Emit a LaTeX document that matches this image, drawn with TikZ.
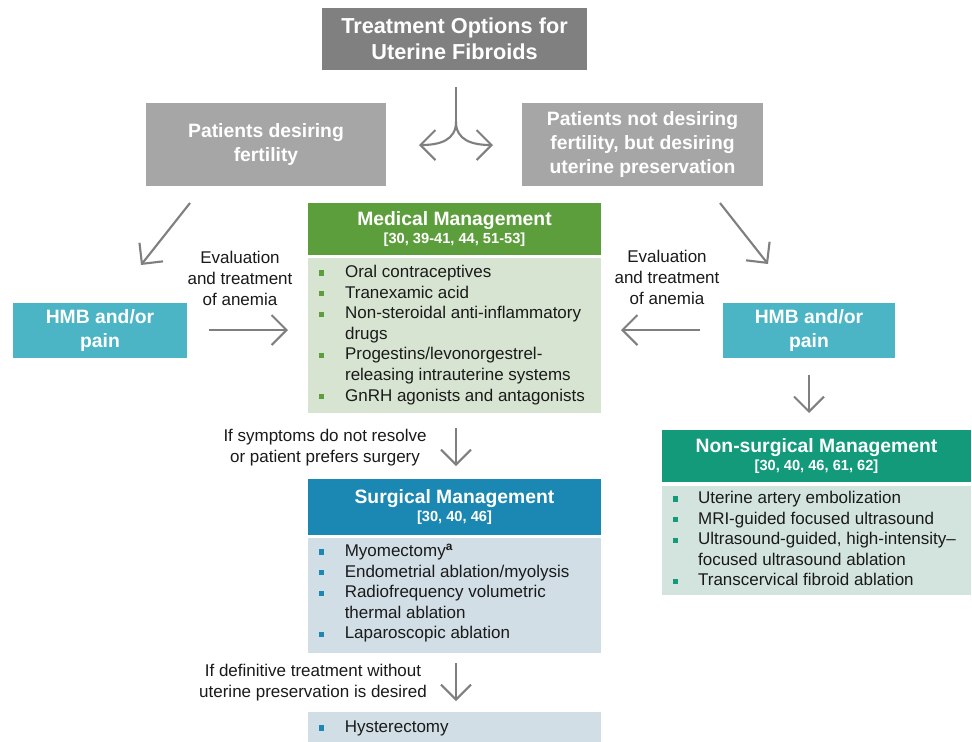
\documentclass[tikz,border=0pt]{standalone}
\usepackage{fontspec}
\setmainfont{Liberation Sans}
\usetikzlibrary{arrows.meta}
\definecolor{titlegray}{HTML}{808080}
\definecolor{boxgray}{HTML}{A6A6A6}
\definecolor{arrgray}{HTML}{7F7F7F}
\definecolor{medgreen}{HTML}{5C9E3B}
\definecolor{medbody}{HTML}{D7E4D2}
\definecolor{hmbteal}{HTML}{4BB5C5}
\definecolor{nsgreen}{HTML}{129A7B}
\definecolor{nsbody}{HTML}{D3E4DF}
\definecolor{surgblue}{HTML}{1B87B3}
\definecolor{surgbody}{HTML}{D2DEE6}
\definecolor{txt}{HTML}{1A1A1A}
\newcommand\mybullet[1]{\textcolor{#1}{\rule[1.7pt]{4.3pt}{4.3pt}}}
\begin{document}
\begin{tikzpicture}[x=0.3mm,y=-0.3mm,
  bx/.style 2 args={rectangle, inner sep=0pt, minimum width=#1*0.3mm, minimum height=#2*0.3mm},
  hdr/.style={text=white, align=center, font=\bfseries\fontsize{16.5}{19}\selectfont},
  body/.style={inner sep=0pt, anchor=base west, text=txt, font=\fontsize{14.5}{17.6}\selectfont},
  note/.style={inner sep=0pt, text=txt, align=center, font=\fontsize{14.5}{17.9}\selectfont},
  plain/.style={draw=arrgray, line width=1.8pt},
  arr/.style={plain, -{Straight Barb[length=4.5mm,width=9mm]}}]
\useasboundingbox (0,0) rectangle (972,741);
\clip (0,0) rectangle (972,741);
\fill[white] (0,0) rectangle (972,741);

% top
\node[bx={265}{62}, fill=titlegray, text=white, align=center,
  font=\bfseries\fontsize{18.5}{22}\selectfont] (title) at (454.5,39)
  {Treatment Options for\\Uterine Fibroids};
\node[bx={240}{83}, fill=boxgray, hdr, font=\bfseries\fontsize{16.5}{20.4}\selectfont] (lgray) at (266,144.5)
  {Patients desiring\\fertility};
\node[bx={241}{83}, fill=boxgray, hdr, font=\bfseries\fontsize{16.5}{20.4}\selectfont] (rgray) at (642.5,144.5)
  {Patients not desiring\\fertility, but desiring\\uterine preservation};

% fork
\coordinate (fk0) at (456,87);
\coordinate (fk1) at (456,122);
\coordinate (fkL) at (419,145);
\coordinate (fkR) at (493,145);
\draw[plain] (fk0) -- (fk1);
\draw[arr] (fk1) .. controls (456,140) and (440,145) .. (fkL);
\draw[arr] (fk1) .. controls (456,140) and (472,145) .. (fkR);

% medical
\node[bx={293}{52}, fill=medgreen, hdr] (medh) at (454.5,229)
  {Medical Management\\[-3pt]{\fontsize{12.5}{14}\selectfont [30, 39-41, 44, 51-53]}};
\node[bx={293}{155}, fill=medbody] (medb) at (454.5,335.5) {};
\node[body] (medl) at (318.5,277.5) {\begin{tabular}[t]{@{}l@{\hspace{6.4mm}}l@{}}
\mybullet{medgreen} & Oral contraceptives\\
\mybullet{medgreen} & Tranexamic acid\\
\mybullet{medgreen} & Non-steroidal anti-inflammatory\\
 & drugs\\
\mybullet{medgreen} & Progestins/levonorgestrel-\\
 & releasing intrauterine systems\\
\mybullet{medgreen} & GnRH agonists and antagonists
\end{tabular}};

% HMB boxes
\node[bx={174}{55}, fill=hmbteal, hdr, font=\bfseries\fontsize{16.5}{20}\selectfont] (lhmb) at (100,330.5) {HMB and/or\\pain};
\node[bx={172}{55}, fill=hmbteal, hdr, font=\bfseries\fontsize{16.5}{20}\selectfont] (rhmb) at (809,330.5) {HMB and/or\\pain};

\node[note] (levl) at (240,278) {Evaluation\\and treatment\\of anemia};
\node[note] (revl) at (667,277) {Evaluation\\and treatment\\of anemia};

\coordinate (dl0) at (190,203);
\coordinate (dl1) at (141,265);
\coordinate (dr0) at (720,203);
\coordinate (dr1) at (768,264);
\draw[arr] (dl0) -- (dl1);
\draw[arr] (dr0) -- (dr1);
\coordinate (hl0) at (209,330);
\coordinate (hl1) at (288,330);
\coordinate (hr0) at (700,330);
\coordinate (hr1) at (621,330);
\draw[arr] (hl0) -- (hl1);
\draw[arr] (hr0) -- (hr1);
\coordinate (vr0) at (809,375);
\coordinate (vr1) at (809,413);
\draw[arr] (vr0) -- (vr1);

% non-surgical
\node[bx={309}{52}, fill=nsgreen, hdr] (nsh) at (816.5,456)
  {Non-surgical Management\\[-3pt]{\fontsize{12.5}{14}\selectfont [30, 40, 46, 61, 62]}};
\node[bx={309}{109}, fill=nsbody] (nsb) at (816.5,540.5) {};
\node[body] (nsl) at (672.5,503.5) {\begin{tabular}[t]{@{}l@{\hspace{6.1mm}}l@{}}
\mybullet{nsgreen} & Uterine artery embolization\\
\mybullet{nsgreen} & MRI-guided focused ultrasound\\
\mybullet{nsgreen} & Ultrasound-guided, high-intensity--\\
 & focused ultrasound ablation\\
\mybullet{nsgreen} & Transcervical fibroid ablation
\end{tabular}};

% surgical
\coordinate (vc0) at (456,428);
\coordinate (vc1) at (456,466);
\draw[arr] (vc0) -- (vc1);
\node[note] (ifsym) at (325,448) {If symptoms do not resolve\\or patient prefers surgery};

\node[bx={293}{56}, fill=surgblue, hdr] (sh) at (454.5,507)
  {Surgical Management\\[-3pt]{\fontsize{12.5}{14}\selectfont [30, 40, 46]}};
\node[bx={293}{115}, fill=surgbody] (sb) at (454.5,595.5) {};
\node[body] (sl) at (318.5,556.5) {\begin{tabular}[t]{@{}l@{\hspace{6.3mm}}l@{}}
\mybullet{surgblue} & Myomectomy\textsuperscript{\textbf{a}}\\
\mybullet{surgblue} & Endometrial ablation/myolysis\\
\mybullet{surgblue} & Radiofrequency volumetric\\
 & thermal ablation\\
\mybullet{surgblue} & Laparoscopic ablation
\end{tabular}};

\coordinate (vd0) at (456,663);
\coordinate (vd1) at (456,701);
\draw[arr] (vd0) -- (vd1);
\node[note] (ifdef) at (313,682.5) {If definitive treatment without\\uterine preservation is desired};

\node[bx={293}{46}, fill=surgbody] (hy) at (454.5,735) {};
\node[body] (hyl) at (318.5,732.5) {\begin{tabular}[t]{@{}l@{\hspace{6.3mm}}l@{}}
\mybullet{surgblue} & Hysterectomy
\end{tabular}};
\end{tikzpicture}
\end{document}
